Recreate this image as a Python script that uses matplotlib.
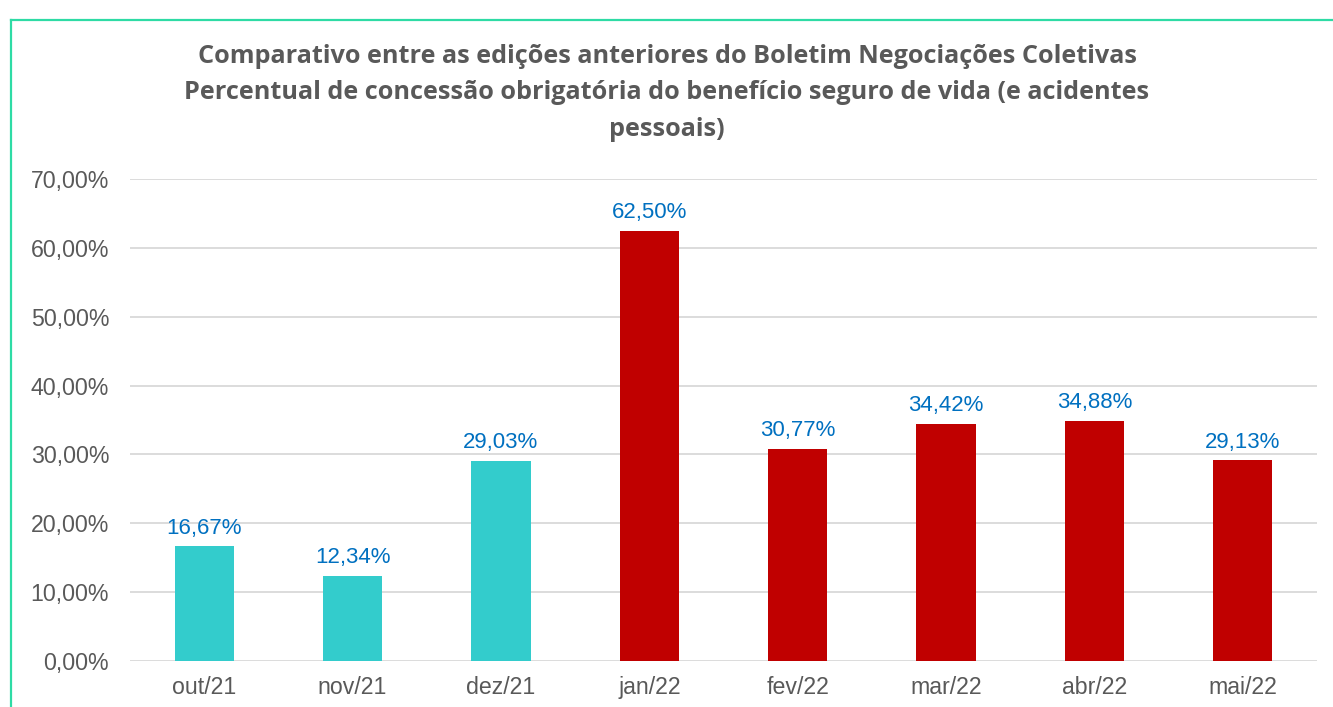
import matplotlib
matplotlib.use("Agg")
import matplotlib.pyplot as plt
from matplotlib.lines import Line2D

categories = ["out/21", "nov/21", "dez/21", "jan/22", "fev/22", "mar/22", "abr/22", "mai/22"]
values = [16.67, 12.34, 29.03, 62.50, 30.77, 34.42, 34.88, 29.13]
teal, red = "#33CCCC", "#C00000"
colors = [teal, teal, teal, red, red, red, red, red]
yticks = [0, 10, 20, 30, 40, 50, 60, 70]
title = ("Comparativo entre as edições anteriores do Boletim Negociações Coletivas\n"
         "Percentual de concessão obrigatória do benefício seguro de vida (e acidentes\n"
         "pessoais)")

def br(v):
    return f"{v:.2f}".replace(".", ",") + "%"

W, H = 1333, 707
fig = plt.figure(figsize=(W / 100, H / 100), dpi=100)
ax = fig.add_axes([130 / W, 1 - 661 / H, (1317 - 130) / W, (661 - 179) / H])

x = list(range(len(categories)))
ax.bar(x, values, width=0.40, color=colors, zorder=3)
ax.set_xlim(-0.5, len(categories) - 0.5)
ax.set_ylim(0, 70)
ax.set_yticks(yticks)
ax.set_yticklabels([br(t) for t in yticks])
ax.set_xticks(x)
ax.set_xticklabels(categories)
ax.grid(axis="y", color="#D9D9D9", linewidth=1.3, zorder=0)
for s in ax.spines.values():
    s.set_visible(False)
ax.tick_params(axis="both", length=0, labelsize=16.7, labelcolor="#595959")
ax.tick_params(axis="y", pad=15)
ax.tick_params(axis="x", pad=11)
for lab in ax.get_xticklabels() + ax.get_yticklabels():
    lab.set_fontfamily("Liberation Sans")

for xi, v in zip(x, values):
    ax.annotate(br(v), (xi, v), xytext=(0, 5.5), textcoords="offset points",
                ha="center", va="bottom", fontsize=16.0, color="#0070C0",
                family="Liberation Sans")

fig.text(0.5 * (197 + 1137) / W, 1 - 44 / H, title, ha="center", va="top",
         fontsize=18.2, fontweight="bold", color="#595959", family="Open Sans",
         linespacing=1.6)

fig.add_artist(Line2D([10.5 / W, 10.5 / W], [0, 1 - 19.5 / H], color="#2EDBA5",
                      linewidth=1.6, transform=fig.transFigure))
fig.add_artist(Line2D([10.5 / W, 1], [1 - 19.5 / H, 1 - 19.5 / H], color="#2EDBA5",
                      linewidth=1.6, transform=fig.transFigure))

fig.savefig("out.png", dpi=100)
